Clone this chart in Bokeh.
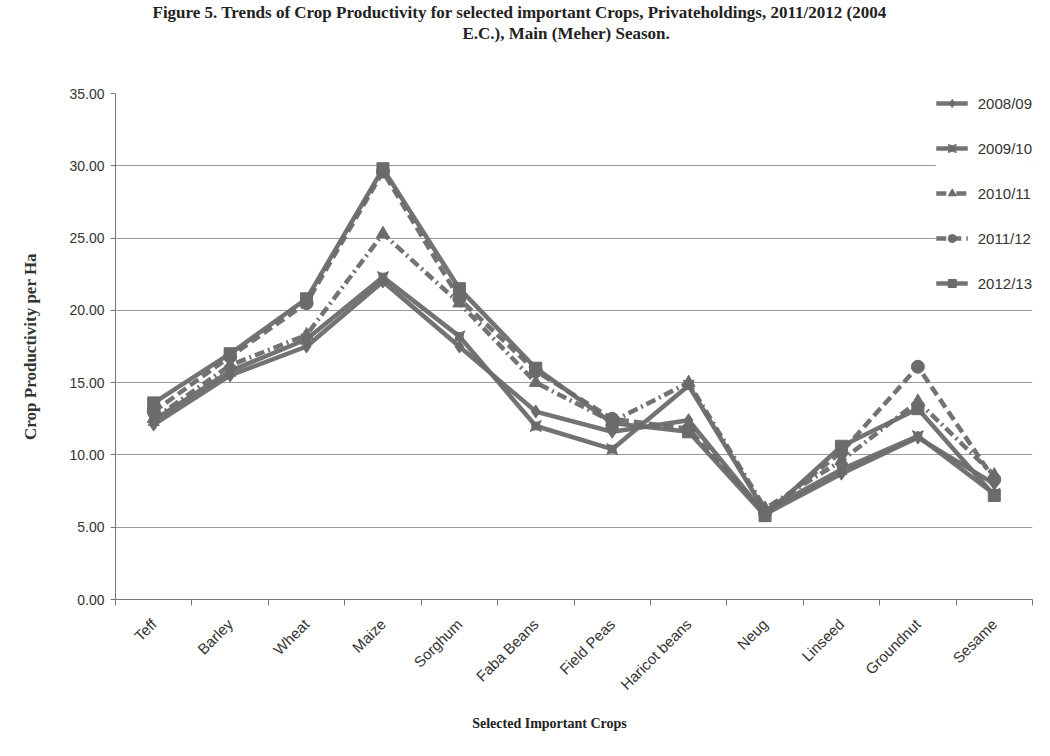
import numpy as np
from bokeh.plotting import figure
from bokeh.models import FixedTicker, PrintfTickFormatter, Range1d, Title, Legend, LegendItem
from bokeh.embed import file_html
from bokeh.resources import INLINE

crops = ["Teff", "Barley", "Wheat", "Maize", "Sorghum", "Faba Beans", "Field Peas",
         "Haricot beans", "Neug", "Linseed", "Groundnut", "Sesame"]
y0809 = [12.1, 15.5, 17.5, 22.0, 17.5, 13.0, 11.6, 12.4, 5.9, 8.7, 11.2, 8.0]
y0910 = [12.4, 15.8, 18.0, 22.3, 18.2, 12.0, 10.4, 14.8, 6.1, 9.0, 11.3, 7.3]
y1011 = [12.5, 16.2, 18.3, 25.3, 20.5, 15.0, 12.3, 15.0, 6.3, 9.6, 13.7, 8.6]
y1112 = [13.0, 16.8, 20.5, 29.6, 20.8, 15.8, 12.5, 11.8, 6.0, 10.2, 16.1, 8.3]
y1213 = [13.6, 17.0, 20.8, 29.8, 21.5, 16.0, 12.2, 11.6, 5.8, 10.6, 13.2, 7.2]
series_names = ["2008/09", "2009/10", "2010/11", "2011/12", "2012/13"]
y_ticks = [0, 5, 10, 15, 20, 25, 30, 35]

title1 = "Figure 5. Trends of Crop Productivity for selected important Crops, Privateholdings, 2011/2012 (2004"
title2 = "E.C.), Main (Meher) Season."
x_title = "Selected Important Crops"
y_title = "Crop Productivity per Ha"

xs = np.arange(len(crops)) + 0.5

p = figure(width=1034, height=740, output_backend="svg", toolbar_location=None,
           x_range=Range1d(0, len(crops)), y_range=Range1d(0, 35),
           min_border_left=115, min_border_right=2, min_border_top=86, min_border_bottom=141)
p.outline_line_color = None
p.background_fill_color = "white"

# axes
p.xaxis.ticker = FixedTicker(ticks=list(xs), minor_ticks=list(range(len(crops) + 1)))
p.xaxis.major_label_overrides = {float(x): c for x, c in zip(xs, crops)}
p.xaxis.major_label_orientation = np.pi / 4
p.xaxis.major_tick_line_color = None
p.xaxis.major_tick_out = 0
p.xaxis.minor_tick_out = 6
p.xaxis.minor_tick_in = 0
p.xaxis.minor_tick_line_color = "#777777"
p.xaxis.axis_line_color = "#777777"
p.xaxis.major_label_text_font = "Liberation Sans"
p.xaxis.major_label_text_font_size = "15px"
p.xaxis.major_label_text_color = "#333333"
p.xaxis.major_label_standoff = 16
p.xaxis.axis_label = x_title + "\u00a0" * 14
p.xaxis.axis_label_text_font = "Liberation Serif"
p.xaxis.axis_label_text_font_style = "bold"
p.xaxis.axis_label_text_font_size = "14px"
p.xaxis.axis_label_text_color = "#222222"
p.xaxis.axis_label_standoff = 14

p.yaxis.ticker = FixedTicker(ticks=y_ticks)
p.yaxis.formatter = PrintfTickFormatter(format="%.2f")
p.yaxis.major_tick_out = 5
p.yaxis.major_tick_in = 0
p.yaxis.minor_tick_line_color = None
p.yaxis.axis_line_color = "#777777"
p.yaxis.major_tick_line_color = "#777777"
p.yaxis.major_label_text_font = "Liberation Sans"
p.yaxis.major_label_text_font_size = "14px"
p.yaxis.major_label_text_color = "#333333"
p.yaxis.major_label_standoff = 6
p.yaxis.axis_label = y_title
p.yaxis.axis_label_text_font = "Liberation Serif"
p.yaxis.axis_label_text_font_style = "bold"
p.yaxis.axis_label_text_font_size = "17px"
p.yaxis.axis_label_text_color = "#333333"
p.yaxis.axis_label_standoff = 26

p.xgrid.grid_line_color = None
p.ygrid.ticker = FixedTicker(ticks=y_ticks)
p.ygrid.grid_line_color = "#999999"
p.ygrid.grid_line_width = 1

gray = "#6b6b6b"
data = [y0809, y0910, y1011, y1112, y1213]
dashes = ["solid", "solid", "10 4 2 4", "10 5", "solid"]
markers = ["diamond", "square_pin", "triangle", "circle", "square"]
sizes = [13, 11, 13, 13, 12]
items = []
for name, ys, dash, mk, sz in zip(series_names, data, dashes, markers, sizes):
    r1 = p.line(xs, ys, line_color=gray, line_width=4.5, line_dash=dash, line_alpha=0.95)
    r2 = p.scatter(xs, ys, marker=mk, size=sz, fill_color=gray, line_color=gray)
    items.append(LegendItem(label=name, renderers=[r1, r2]))

legend = Legend(items=items, location="top_right")
legend.background_fill_color = "white"
legend.background_fill_alpha = 1.0
legend.border_line_color = None
legend.label_text_font = "Liberation Sans"
legend.label_text_font_size = "15px"
legend.label_text_color = "#333333"
legend.glyph_width = 32
legend.spacing = 25
legend.padding = 2
legend.margin = 0
legend.label_standoff = 10
p.add_layout(legend)

# titles above (first added is closest to the frame)
p.add_layout(Title(text=" ", text_font_size="35px"), "above")
p.add_layout(Title(text=title2, align="left", offset=347, standoff=0, text_font="Liberation Serif",
                   text_font_style="bold", text_font_size="17px", text_color="#222222"), "above")
p.add_layout(Title(text=title1, align="left", offset=37, standoff=0, text_font="Liberation Serif",
                   text_font_style="bold", text_font_size="17px", text_color="#222222"), "above")

open("out.html", "w").write(file_html(p, INLINE))
